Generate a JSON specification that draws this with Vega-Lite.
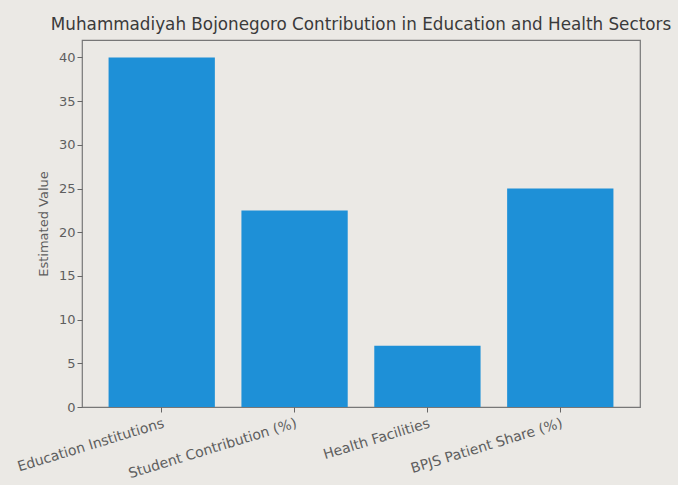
{
  "$schema": "https://vega.github.io/schema/vega-lite/v6.json",
  "autosize": {"type": "none"},
  "padding": {"left": 82, "top": 40, "right": 38, "bottom": 78},
  "width": 558,
  "height": 367,
  "background": "#ebe9e5",
  "title": {
    "text": "Muhammadiyah Bojonegoro Contribution in Education and Health Sectors",
    "font": "DejaVu Sans",
    "fontSize": 16.8,
    "fontWeight": "normal",
    "color": "#3a3a3a",
    "anchor": "middle",
    "offset": 6
  },
  "data": {
    "values": [
      {"category": "Education Institutions", "value": 40},
      {"category": "Student Contribution (%)", "value": 22.5},
      {"category": "Health Facilities", "value": 7},
      {"category": "BPJS Patient Share (%)", "value": 25}
    ]
  },
  "mark": {"type": "bar", "color": "#1e90d7"},
  "encoding": {
    "x": {
      "field": "category",
      "type": "nominal",
      "sort": null,
      "scale": {"paddingInner": 0.2, "paddingOuter": 0.2},
      "axis": {
        "title": null,
        "labelAngle": -17,
        "labelAlign": "right",
        "labelBaseline": "top",
        "labelFont": "DejaVu Sans",
        "labelFontSize": 14,
        "labelColor": "#5e5e5e",
        "labelPadding": 4,
        "labelLimit": 0,
        "labelOverlap": false,
        "tickColor": "#666666",
        "tickSize": 5,
        "domain": false
      }
    },
    "y": {
      "field": "value",
      "type": "quantitative",
      "scale": {"domain": [0, 42], "nice": false},
      "axis": {
        "title": "Estimated Value",
        "titleFont": "DejaVu Sans",
        "titleFontSize": 13,
        "titleFontWeight": "normal",
        "titleColor": "#5e5e5e",
        "titlePadding": 8,
        "values": [0, 5, 10, 15, 20, 25, 30, 35, 40],
        "labelFont": "DejaVu Sans",
        "labelFontSize": 13,
        "labelColor": "#5e5e5e",
        "tickColor": "#666666",
        "tickSize": 5,
        "grid": false,
        "domain": false
      }
    }
  },
  "config": {
    "view": {"stroke": "#777777", "strokeWidth": 1.2}
  }
}
